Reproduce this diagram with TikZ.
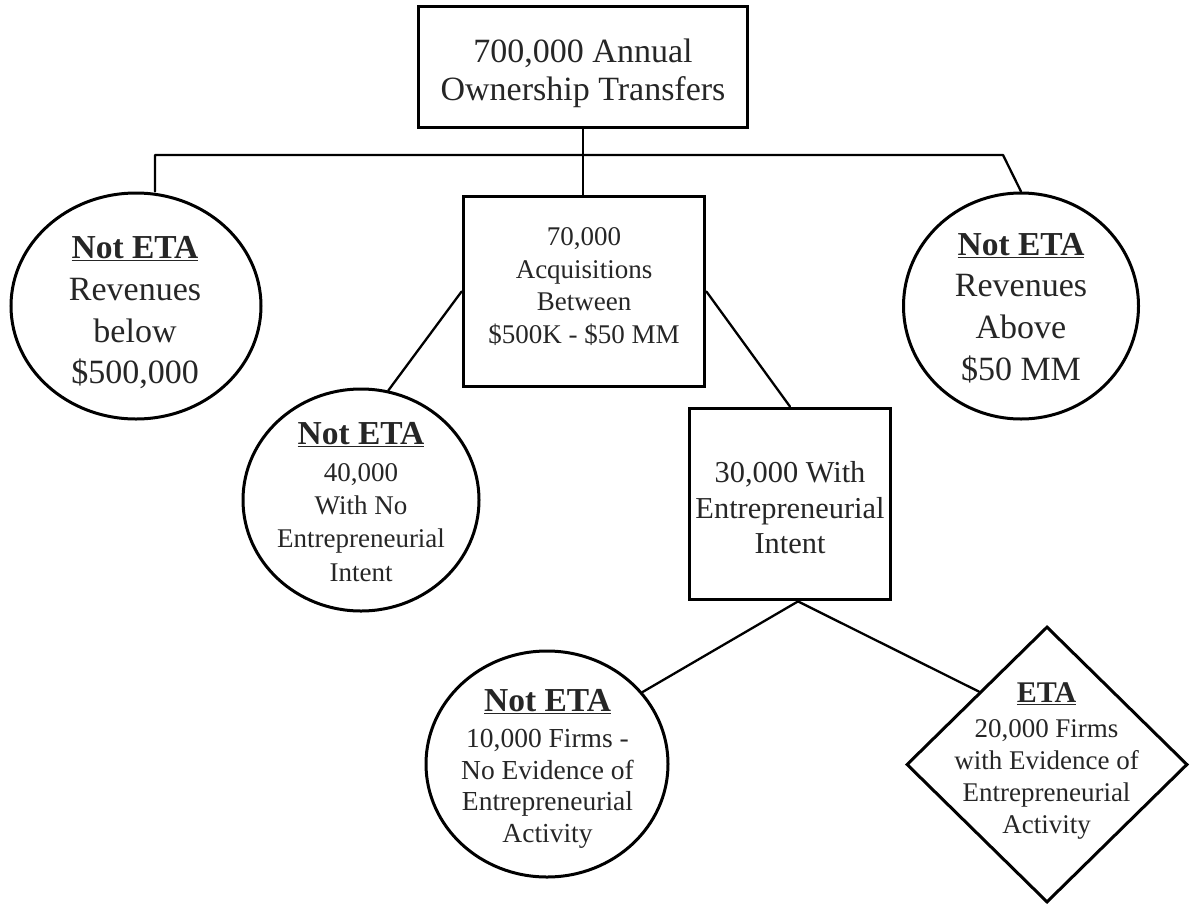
\documentclass[tikz,border=0pt]{standalone}
\usepackage{fontspec}
\setmainfont{Liberation Serif}
\usetikzlibrary{shapes.geometric}
\begin{document}
\begin{tikzpicture}[x=1pt,y=-1pt,
  boxnode/.style={draw=black,line width=3.8pt,rectangle,inner sep=0pt,fill=white},
  ovalnode/.style={draw=black,line width=3pt,ellipse,inner sep=0pt,fill=white},
  diamondnode/.style={draw=black,line width=3pt,diamond,inner sep=0pt,fill=white},
  txt/.style={align=center,inner sep=0pt,text=black!85},
  link/.style={draw=black,line width=2.3pt,line cap=round,line join=round}]
\useasboundingbox (0,0) rectangle (1190,907);
\fill[white] (0,0) rectangle (1190,907);

% connectors first
\coordinate (hl) at (155,155);
\coordinate (hr) at (1003,155);

% shapes
\node[boxnode,minimum width=329pt,minimum height=121pt] (top) at (583,67) {};
\node[boxnode,minimum width=241pt,minimum height=190pt] (mid) at (584,291.5) {};
\node[boxnode,minimum width=201pt,minimum height=191pt] (b30) at (790,504) {};
\node[ovalnode,minimum width=250pt,minimum height=226pt] (c1) at (136,306) {};
\node[ovalnode,minimum width=235pt,minimum height=226pt] (c2) at (1021,306) {};
\node[ovalnode,minimum width=236pt,minimum height=222pt] (c40) at (361,500) {};
\node[ovalnode,minimum width=242pt,minimum height=226pt] (c10) at (547,764) {};
\node[diamondnode,minimum width=281pt,minimum height=276pt] (eta) at (1047,764.5) {};

\draw[link] (top.south) -- (top.south |- mid.north);
\draw[link] (hl |- c1.north) -- (hl) -- (hr) -- (c2.north);
\draw[link] (mid.west) -- (c40.76);
\draw[link] (mid.east) -- (b30.north);
\draw[link] ([xshift=8pt]b30.south) -- (c10.37);
\draw[link] ([xshift=8pt]b30.south) -- (eta.133);

% texts
\node[txt,font=\fontsize{34}{38}\selectfont] (top-t) at (583,73)
  {700,000 Annual\\Ownership Transfers};
\node[txt,font=\fontsize{34}{41.7}\selectfont] (c1-t) at (135,313)
  {{\fontsize{33.5}{41.7}\selectfont\bfseries\underline{Not ETA}}\\Revenues\\below\\\$500,000};
\node[txt,font=\fontsize{34}{41.7}\selectfont] (c2-t) at (1021,308)
  {{\fontsize{33.5}{41.7}\selectfont\bfseries\underline{Not ETA}}\\Revenues\\Above\\\$50 MM};
\node[txt,font=\fontsize{27}{32.7}\selectfont] (mid-t) at (584,286.5)
  {70,000\\Acquisitions\\Between\\\$500K - \$50 MM};
\node[txt,font=\fontsize{27}{33.3}\selectfont] (c40-t) at (361,502)
  {{\fontsize{33.5}{33.3}\selectfont\bfseries\underline{Not ETA}}\\[3.5pt]40,000\\With No\\Entrepreneurial\\Intent};
\node[txt,font=\fontsize{30.4}{35.5}\selectfont] (b30-t) at (790,508)
  {30,000 With\\Entrepreneurial\\Intent};
\node[txt,font=\fontsize{27.5}{31.7}\selectfont] (c10-t) at (547.5,769)
  {{\fontsize{33.5}{31.7}\selectfont\bfseries\underline{Not ETA}}\\[4pt]10,000 Firms -\\No Evidence of\\Entrepreneurial\\Activity};
\node[txt,font=\fontsize{27}{32}\selectfont] (eta-t) at (1046.5,761)
  {{\fontsize{30}{32}\selectfont\bfseries\underline{ETA}}\\[3pt]20,000 Firms\\with Evidence of\\Entrepreneurial\\Activity};
\end{tikzpicture}
\end{document}
